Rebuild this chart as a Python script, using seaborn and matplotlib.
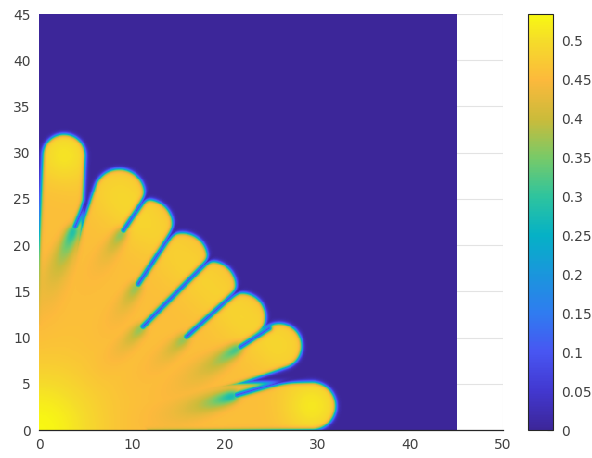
import numpy as np
import matplotlib
matplotlib.use("Agg")
import matplotlib.pyplot as plt
import seaborn as sns
from matplotlib.colors import LinearSegmentedColormap

# Fingers: root point, centre of the rounded tip, cap radius, extra tip concentration
base_x = [1.6, 0.0, 0.0, 0.0, 0.0, 0.0, 0.0, 5.0]
base_y = [5.0, 0.0, 0.0, 0.0, 0.0, 0.0, 0.0, 2.3]
tip_x = [2.7, 8.65, 11.67, 15.43, 18.49, 21.83, 25.88, 29.4]
tip_y = [29.7, 25.48, 22.19, 18.59, 15.53, 12.24, 9.1, 2.6]
tip_r = [2.3, 2.75, 2.75, 2.75, 2.75, 2.6, 2.45, 2.6]
tip_boost = [0.05, 0.03, 0.025, 0.02, 0.02, 0.025, 0.03, 0.055]

# Grooves between neighbouring fingers: inner end (x0, y0) -> outer end (x1, y1)
groove_x0 = [3.9, 9.1, 10.7, 11.2, 15.9, 21.7, 21.3]
groove_y0 = [22.0, 21.6, 15.8, 11.2, 10.1, 9.0, 3.8]
groove_x1 = [4.9, 12.0, 14.85, 19.0, 21.85, 24.8, 28.5]
groove_y1 = [24.4, 25.9, 22.1, 19.1, 15.5, 11.0, 5.9]
# how strongly and how far each groove fades into the body
ghost_amp = [0.5, 0.35, 0.3, 0.3, 0.3, 0.45, 0.55]
ghost_len = [3.5, 2.0, 2.0, 2.0, 2.0, 3.0, 3.0]

# Concentration levels
c_base = 0.457
c_core = 0.076
v_max = 0.534

# Colour bar levels and the colours at those levels
cbar_levels = [0.0, 0.05, 0.10, 0.15, 0.20, 0.25, 0.30, 0.35, 0.40, 0.45, 0.50, 0.534]
cbar_colors = ["#3c2699", "#4238d0", "#4856f2", "#2f7cf0", "#1a96dc", "#05b1c6",
               "#2ec49e", "#78ca68", "#cbbb3a", "#fcb93c", "#f5dc2a", "#f8f812"]
cbar_ticks = [0, 0.05, 0.1, 0.15, 0.2, 0.25, 0.3, 0.35, 0.4, 0.45, 0.5]
cbar_ticklabels = ["0", "0.05", "0.1", "0.15", "0.2", "0.25", "0.3", "0.35", "0.4", "0.45", "0.5"]

x_ticks = [0, 10, 20, 30, 40, 50]
y_ticks = [0, 5, 10, 15, 20, 25, 30, 35, 40, 45]

# ---------------------------------------------------------------- field
N = 450          # cells per side, 0.1 units each
step = 0.1
cc = (np.arange(N) + 0.5) * step
X, Y = np.meshgrid(cc, cc)


def seg_dist(px, py, ax_, ay, bx, by):
    vx, vy = bx - ax_, by - ay
    t = np.clip(((px - ax_) * vx + (py - ay) * vy) / (vx * vx + vy * vy), 0, 1)
    return np.hypot(px - ax_ - t * vx, py - ay - t * vy)


w = 0.25
dmin = np.full_like(X, 1e9)
for bx, by, tx, ty, r in zip(base_x, base_y, tip_x, tip_y, tip_r):
    dmin = np.minimum(dmin, seg_dist(X, Y, bx, by, tx, ty) - r)
dmin = np.minimum(dmin, np.hypot(X, Y) - 12.0)
phase = 0.5 * (1 - np.tanh(dmin / w))

cut = np.zeros_like(X)
for x0, y0, x1, y1, ga, gl in zip(groove_x0, groove_y0, groove_x1, groove_y1,
                                  ghost_amp, ghost_len):
    ln = np.hypot(x1 - x0, y1 - y0)
    ux, uy = (x1 - x0) / ln, (y1 - y0) / ln
    s = (X - x0) * ux + (Y - y0) * uy
    perp = np.abs((X - x0) * uy - (Y - y0) * ux)
    core = 0.5 * (1 - np.tanh((seg_dist(X, Y, x0, y0, x1, y1) - 0.18) / w))
    sig = 0.45 + 0.1 * np.clip(-s, 0, None)
    ghost = (ga * np.exp(np.minimum(s, 0) / gl) * 0.5 * (1 - np.tanh(s / 0.6))
             * np.exp(-perp ** 2 / (2 * sig ** 2)))
    cut = np.maximum(cut, np.maximum(core, ghost))

rr = np.hypot(X, Y)
conc = c_base + c_core * np.exp(-rr ** 2 / (2 * 4.5 ** 2))
for tx, ty, b in zip(tip_x, tip_y, tip_boost):
    conc += b * np.exp(-((X - tx) ** 2 + (Y - ty) ** 2) / (2 * 2.2 ** 2))

field = phase * (1 - cut) * conc

# ---------------------------------------------------------------- figure
sns.set_style("white")
plt.rcParams["font.family"] = ["DejaVu Sans"]
text_color = "#404040"

fig = plt.figure(figsize=(5.92, 4.58), dpi=100)
ax = fig.add_axes([0.0659, 0.0611, 0.7838, 0.9083])
cax = fig.add_axes([0.8919, 0.0611, 0.0422, 0.9083])

cmap = LinearSegmentedColormap.from_list(
    "parula_like", [(lv / v_max, col) for lv, col in zip(cbar_levels, cbar_colors)])

sns.heatmap(field, ax=ax, cmap=cmap, vmin=0, vmax=v_max, cbar_ax=cax,
            xticklabels=False, yticklabels=False)

ax.set_xlim(0, 50 / step)
ax.set_ylim(0, 45 / step)
ax.set_xticks([v / step for v in x_ticks])
ax.set_xticklabels([str(v) for v in x_ticks])
ax.set_yticks([v / step for v in y_ticks])
ax.set_yticklabels([str(v) for v in y_ticks], rotation=0)
ax.tick_params(axis="both", length=0, pad=6, labelsize=10, labelcolor=text_color)
ax.set_axisbelow(True)
ax.grid(True, color="#e3e3e3", linewidth=0.8)
for side in ["top", "right", "left"]:
    ax.spines[side].set_visible(False)
ax.spines["bottom"].set_visible(True)
ax.spines["bottom"].set_color("#262626")
ax.spines["bottom"].set_linewidth(0.9)

cbar = ax.collections[0].colorbar
cbar.set_ticks(cbar_ticks)
cbar.set_ticklabels(cbar_ticklabels)
cbar.outline.set_linewidth(0.8)
cbar.outline.set_edgecolor("#262626")
cax.tick_params(direction="in", length=4, width=0.8, color="#262626",
                labelsize=10, labelcolor=text_color, pad=6)

fig.savefig("out.png", dpi=100)
